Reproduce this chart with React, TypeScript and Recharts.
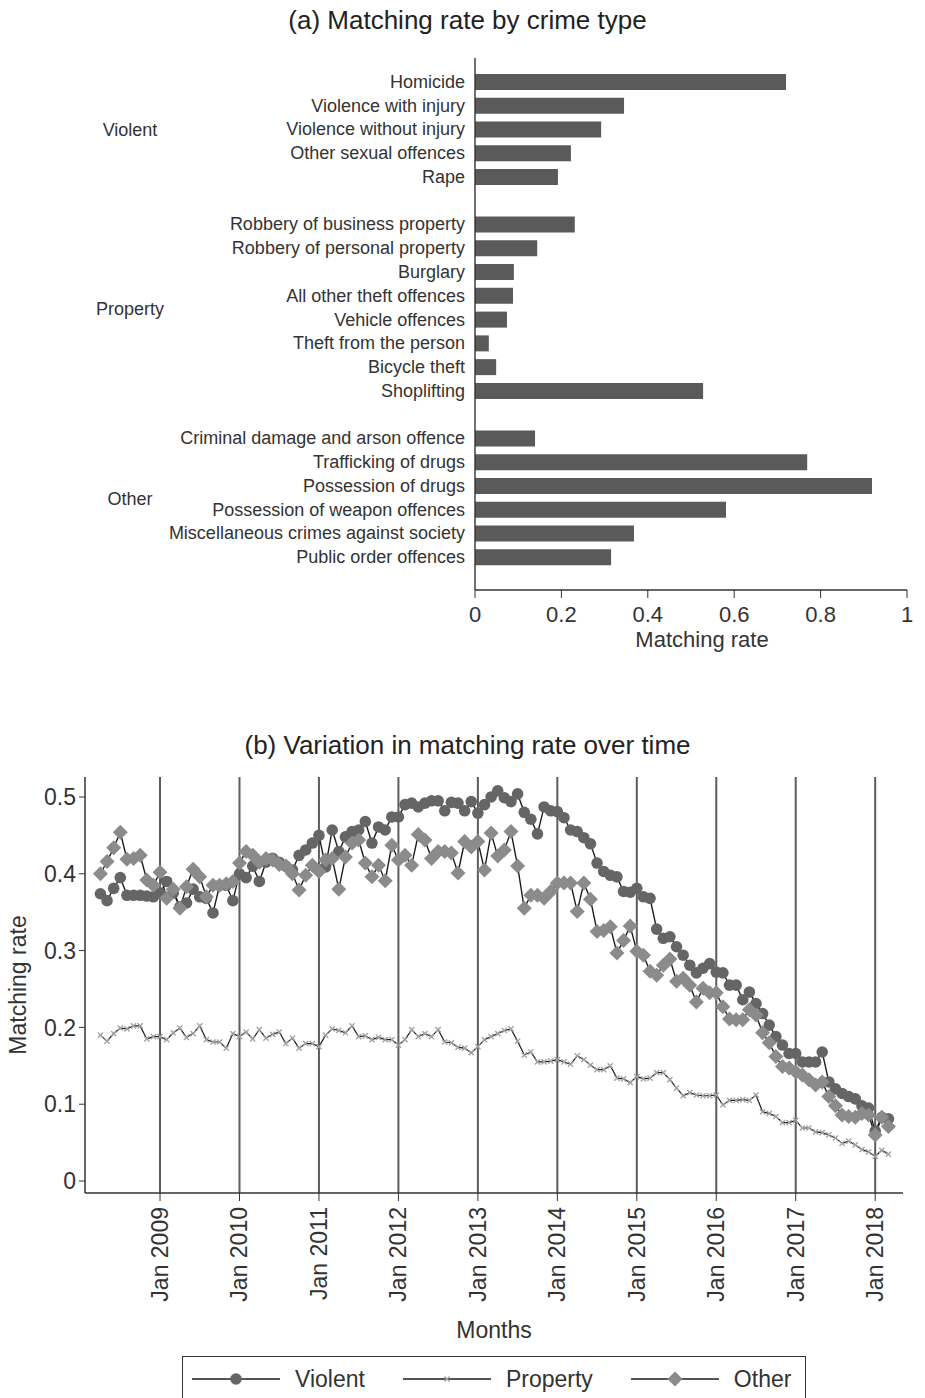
import { BarChart, Bar, LineChart, Line, XAxis, YAxis, ReferenceLine } from 'recharts'

const FONT = '"Liberation Sans", Arial, Helvetica, sans-serif'
const INK = '#333333'

// ---- (a) matching rate by crime type ----
const violentTypes = ['Homicide', 'Violence with injury', 'Violence without injury', 'Other sexual offences', 'Rape']
const violentRates = [0.72, 0.345, 0.292, 0.222, 0.192]

const propertyTypes = [
  'Robbery of business property',
  'Robbery of personal property',
  'Burglary',
  'All other theft offences',
  'Vehicle offences',
  'Theft from the person',
  'Bicycle theft',
  'Shoplifting',
]
const propertyRates = [0.231, 0.144, 0.09, 0.088, 0.074, 0.032, 0.049, 0.528]

const otherTypes = [
  'Criminal damage and arson offence',
  'Trafficking of drugs',
  'Possession of drugs',
  'Possession of weapon offences',
  'Miscellaneous crimes against society',
  'Public order offences',
]
const otherRates = [0.139, 0.769, 0.919, 0.581, 0.368, 0.315]

const rateTicks = [0, 0.2, 0.4, 0.6, 0.8, 1]

const typeGroups = [
  { label: 'Violent', types: violentTypes, rates: violentRates },
  { label: 'Property', types: propertyTypes, rates: propertyRates },
  { label: 'Other', types: otherTypes, rates: otherRates },
]

// blank rows keep the groups apart
const barRows = typeGroups.flatMap((g, gi) => {
  const rows = g.types.map((name, i) => ({ name, rate: g.rates[i] as number | null }))
  return gi < typeGroups.length - 1 ? [...rows, { name: ' '.repeat(gi + 1), rate: null }] : rows
})

const BAR_TOP = 58
const BAR_BOTTOM = 590
const PAD_TOP = 12
const PAD_BOTTOM = 21
const ROW = (BAR_BOTTOM - BAR_TOP - PAD_TOP - PAD_BOTTOM) / barRows.length

// ---- (b) monthly matching rate, Apr 2008 - Mar 2018 ----
const violent = [
  0.374, 0.365, 0.381, 0.395, 0.372, 0.372, 0.372, 0.371, 0.37,
  0.375, 0.39, 0.375, 0.357, 0.362, 0.38, 0.37, 0.368, 0.349, 0.385, 0.385, 0.365,
  0.4, 0.395, 0.41, 0.39, 0.415, 0.42, 0.415, 0.41, 0.405, 0.424, 0.431, 0.44,
  0.45, 0.409, 0.457, 0.429, 0.448, 0.455, 0.457, 0.468, 0.44, 0.461, 0.457, 0.474,
  0.474, 0.49, 0.492, 0.487, 0.492, 0.495, 0.495, 0.482, 0.493, 0.492, 0.482, 0.494,
  0.479, 0.49, 0.5, 0.508, 0.499, 0.494, 0.504, 0.48, 0.471, 0.452, 0.487, 0.482,
  0.481, 0.473, 0.457, 0.455, 0.447, 0.439, 0.414, 0.403, 0.398, 0.396, 0.377, 0.376,
  0.381, 0.37, 0.368, 0.328, 0.316, 0.318, 0.305, 0.294, 0.281, 0.271, 0.277, 0.283,
  0.272, 0.271, 0.255, 0.255, 0.236, 0.246, 0.231, 0.218, 0.203, 0.188, 0.177, 0.166,
  0.166, 0.155, 0.155, 0.155, 0.168, 0.129, 0.12, 0.114, 0.11, 0.107, 0.098, 0.095,
  0.065, 0.083, 0.081,
]

const property = [
  0.19, 0.182, 0.192, 0.199, 0.198, 0.202, 0.202, 0.185, 0.188,
  0.188, 0.184, 0.193, 0.199, 0.187, 0.192, 0.202, 0.184, 0.181, 0.181, 0.173, 0.192,
  0.188, 0.194, 0.185, 0.197, 0.186, 0.191, 0.194, 0.179, 0.186, 0.173, 0.179, 0.179,
  0.175, 0.19, 0.198, 0.196, 0.193, 0.202, 0.188, 0.189, 0.184, 0.187, 0.184, 0.184,
  0.177, 0.184, 0.197, 0.188, 0.192, 0.188, 0.197, 0.181, 0.18, 0.174, 0.173, 0.167,
  0.175, 0.184, 0.188, 0.192, 0.196, 0.198, 0.182, 0.164, 0.168, 0.155, 0.155, 0.156,
  0.158, 0.155, 0.152, 0.163, 0.158, 0.151, 0.145, 0.145, 0.15, 0.134, 0.133, 0.128,
  0.136, 0.133, 0.134, 0.141, 0.141, 0.132, 0.121, 0.111, 0.115, 0.112, 0.111, 0.111,
  0.112, 0.099, 0.105, 0.105, 0.106, 0.105, 0.112, 0.09, 0.088, 0.084, 0.076, 0.076,
  0.079, 0.069, 0.069, 0.064, 0.063, 0.06, 0.056, 0.049, 0.052, 0.047, 0.041, 0.038,
  0.032, 0.04, 0.035,
]

const other = [
  0.4, 0.416, 0.434, 0.454, 0.419, 0.42, 0.424, 0.392, 0.385,
  0.402, 0.368, 0.38, 0.355, 0.383, 0.406, 0.396, 0.37, 0.385, 0.385, 0.387, 0.39,
  0.414, 0.429, 0.424, 0.415, 0.42, 0.418, 0.412, 0.41, 0.4, 0.379, 0.398, 0.411,
  0.403, 0.418, 0.42, 0.38, 0.422, 0.44, 0.444, 0.414, 0.396, 0.411, 0.391, 0.437,
  0.418, 0.424, 0.411, 0.451, 0.444, 0.42, 0.429, 0.429, 0.427, 0.401, 0.442, 0.435,
  0.442, 0.405, 0.453, 0.423, 0.431, 0.455, 0.41, 0.355, 0.372, 0.372, 0.368, 0.377,
  0.388, 0.388, 0.388, 0.351, 0.388, 0.367, 0.325, 0.326, 0.331, 0.297, 0.313, 0.332,
  0.299, 0.294, 0.273, 0.268, 0.281, 0.289, 0.26, 0.264, 0.255, 0.233, 0.251, 0.245,
  0.245, 0.227, 0.211, 0.21, 0.21, 0.223, 0.216, 0.193, 0.18, 0.162, 0.149, 0.147,
  0.142, 0.138, 0.132, 0.125, 0.129, 0.11, 0.098, 0.086, 0.084, 0.083, 0.088, 0.086,
  0.06, 0.083, 0.071,
]

const yearTicks = ['Jan 2009', 'Jan 2010', 'Jan 2011', 'Jan 2012', 'Jan 2013', 'Jan 2014', 'Jan 2015', 'Jan 2016', 'Jan 2017', 'Jan 2018']
const rateTicksB = [0, 0.1, 0.2, 0.3, 0.4, 0.5]

const MONTHS = ['Jan', 'Feb', 'Mar', 'Apr', 'May', 'Jun', 'Jul', 'Aug', 'Sep', 'Oct', 'Nov', 'Dec']
const monthLabels = violent.map((_, i) => {
  const m = 3 + i // first month is April 2008
  return `${MONTHS[m % 12]} ${2008 + Math.floor(m / 12)}`
})

const lineRows = monthLabels.map((label, i) => ({
  idx: i,
  label,
  violent: violent[i],
  property: property[i],
  other: other[i],
}))
const janTicks = yearTicks.map((t) => monthLabels.indexOf(t))

// ---- markers ----
const VIOLENT_FILL = '#656565'
const OTHER_FILL = '#8b8b8b'
const PROPERTY_MARK = '#a3a3a3'
const LINE_INK = '#1c1c1c'

function circleMark(cx: number, cy: number, key?: string) {
  return <circle key={key} cx={cx} cy={cy} r={5.8} fill={VIOLENT_FILL} />
}
function diamondMark(cx: number, cy: number, key?: string) {
  const s = 7.5
  return <path key={key} d={`M${cx},${cy - s}L${cx + s},${cy}L${cx},${cy + s}L${cx - s},${cy}Z`} fill={OTHER_FILL} />
}
function crossMark(cx: number, cy: number, key?: string) {
  const s = 2.6
  return (
    <path
      key={key}
      d={`M${cx - s},${cy - s}L${cx + s},${cy + s}M${cx - s},${cy + s}L${cx + s},${cy - s}`}
      stroke={PROPERTY_MARK}
      strokeWidth={1.4}
    />
  )
}

function CrimeTick({ x, y, payload }: any) {
  const name: string = payload.value
  if (!name.trim()) return null
  const group = typeGroups.find((g) => g.types[0] === name)
  return (
    <g>
      <text x={x} y={y} dy={6} textAnchor="end" fill={INK} fontSize={18} fontFamily={FONT}>
        {name}
      </text>
      {group && (
        <text
          x={130}
          y={y + ((group.types.length - 1) * ROW) / 2}
          dy={7}
          textAnchor="middle"
          fill={INK}
          fontSize={18}
          fontFamily={FONT}
        >
          {group.label}
        </text>
      )}
    </g>
  )
}

function MonthTick({ x, y, payload }: any) {
  return (
    <text
      x={x}
      y={y}
      dy={8}
      transform={`rotate(-90 ${x} ${y})`}
      textAnchor="end"
      fill={INK}
      fontSize={23}
      fontFamily={FONT}
    >
      {monthLabels[payload.value]}
    </text>
  )
}

const legendItems = [
  { label: 'Violent', mark: circleMark },
  { label: 'Property', mark: crossMark },
  { label: 'Other', mark: diamondMark },
]

export default function App() {
  const tickStyle = { fill: INK, fontSize: 22, fontFamily: FONT }
  const tickStyleB = { fill: INK, fontSize: 23, fontFamily: FONT }
  return (
    <div
      style={{
        position: 'absolute',
        left: 0,
        top: 0,
        width: 925,
        height: 1398,
        background: '#fff',
        fontFamily: FONT,
        color: '#222',
        overflow: 'hidden',
      }}
    >
      <div style={{ position: 'absolute', top: 5, left: 5, width: 925, textAlign: 'center', fontSize: 26, lineHeight: '30px' }}>
        (a) Matching rate by crime type
      </div>

      <div style={{ position: 'absolute', top: 0, left: 0 }}>
        <BarChart
          width={925}
          height={660}
          data={barRows}
          layout="vertical"
          margin={{ top: BAR_TOP, right: 18, bottom: 0, left: 0 }}
        >
          <XAxis
            type="number"
            domain={[0, 1]}
            ticks={rateTicks}
            height={660 - BAR_BOTTOM}
            tick={tickStyle}
            tickSize={8}
            tickMargin={8}
            tickLine={{ stroke: INK }}
            axisLine={{ stroke: INK, strokeWidth: 1.4 }}
            label={{ value: 'Matching rate', position: 'insideBottom', offset: 13, dx: 11, fill: INK, fontSize: 22, fontFamily: FONT }}
          />
          <YAxis
            type="category"
            dataKey="name"
            width={475}
            interval={0}
            padding={{ top: PAD_TOP, bottom: PAD_BOTTOM }}
            tick={<CrimeTick />}
            tickLine={false}
            tickSize={0}
            tickMargin={10}
            axisLine={{ stroke: INK, strokeWidth: 1.4 }}
          />
          <Bar dataKey="rate" fill="#5a5a5a" barSize={16} isAnimationActive={false} />
        </BarChart>
      </div>

      <div style={{ position: 'absolute', top: 730, left: 5, width: 925, textAlign: 'center', fontSize: 26, lineHeight: '30px' }}>
        (b) Variation in matching rate over time
      </div>

      <div style={{ position: 'absolute', top: 760, left: 0 }}>
        <LineChart width={925} height={638} data={lineRows} margin={{ top: 17, right: 22, bottom: 0, left: 0 }}>
          <XAxis
            type="number"
            dataKey="idx"
            domain={[-2.33, 121.2]}
            allowDataOverflow
            ticks={janTicks}
            interval={0}
            height={205}
            tick={<MonthTick />}
            tickSize={8}
            tickMargin={6}
            tickLine={{ stroke: INK }}
            axisLine={{ stroke: INK, strokeWidth: 1.5 }}
            label={{ value: 'Months', position: 'insideBottom', offset: 60, fill: INK, fontSize: 23, fontFamily: FONT }}
          />
          <YAxis
            type="number"
            domain={[-0.0156, 0.526]}
            allowDataOverflow
            ticks={rateTicksB}
            width={85}
            tick={tickStyleB}
            tickSize={6}
            tickMargin={3}
            tickLine={{ stroke: INK }}
            axisLine={{ stroke: INK, strokeWidth: 1.5 }}
            label={{
              value: 'Matching rate',
              angle: -90,
              position: 'insideLeft',
              offset: 18,
              style: { textAnchor: 'middle' },
              fill: INK,
              fontSize: 23,
              fontFamily: FONT,
            }}
          />
          {janTicks.map((t) => (
            <ReferenceLine key={t} x={t} stroke="#5c5c5c" strokeWidth={2} />
          ))}
          <Line
            dataKey="violent"
            stroke={LINE_INK}
            strokeWidth={1.4}
            dot={(p: any) => circleMark(p.cx, p.cy, `v${p.index}`)}
            activeDot={false}
            isAnimationActive={false}
          />
          <Line
            dataKey="property"
            stroke={LINE_INK}
            strokeWidth={1.2}
            dot={(p: any) => crossMark(p.cx, p.cy, `p${p.index}`)}
            activeDot={false}
            isAnimationActive={false}
          />
          <Line
            dataKey="other"
            stroke={LINE_INK}
            strokeWidth={1.4}
            dot={(p: any) => diamondMark(p.cx, p.cy, `o${p.index}`)}
            activeDot={false}
            isAnimationActive={false}
          />
        </LineChart>
      </div>

      <div
        style={{
          position: 'absolute',
          left: 182,
          top: 1356,
          width: 624,
          height: 48,
          border: `1.5px solid ${INK}`,
          boxSizing: 'border-box',
          display: 'flex',
          alignItems: 'center',
          paddingLeft: 9,
          paddingBottom: 2,
          gap: 38,
        }}
      >
        {legendItems.map((item) => (
          <div key={item.label} style={{ display: 'flex', alignItems: 'center', gap: 15 }}>
            <svg width={88} height={20}>
              <line x1={0} y1={10} x2={88} y2={10} stroke={LINE_INK} strokeWidth={1.5} />
              {item.mark(44, 10)}
            </svg>
            <span style={{ fontSize: 23, color: INK, lineHeight: '26px' }}>{item.label}</span>
          </div>
        ))}
      </div>
    </div>
  )
}
